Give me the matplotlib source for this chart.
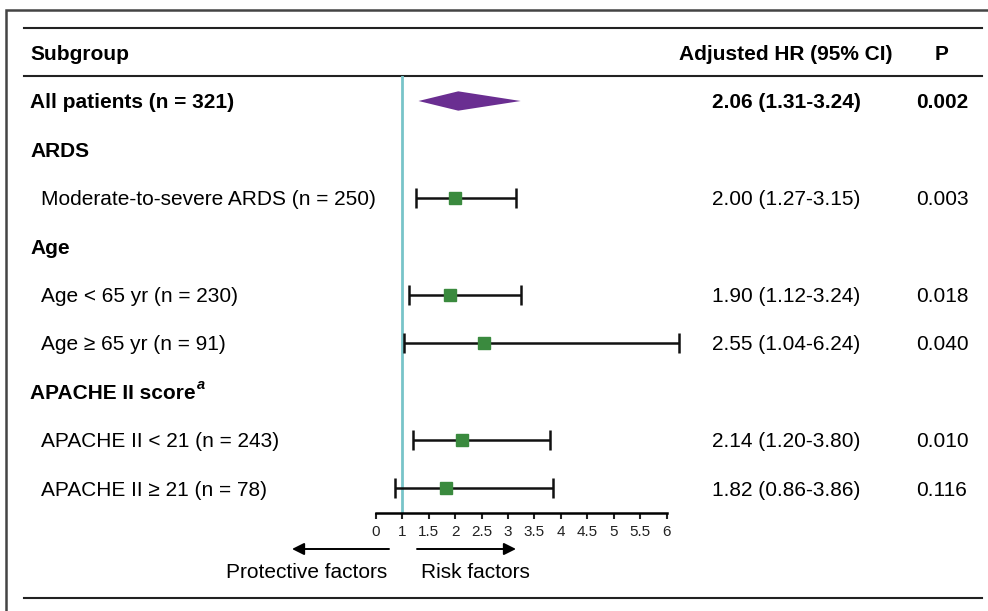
import matplotlib
matplotlib.use("Agg")
import matplotlib.pyplot as plt
from matplotlib.patches import Polygon

plt.rcParams["font.family"] = ["Liberation Sans", "DejaVu Sans"]

# data
labels = ["All patients (n = 321)", "ARDS", "Moderate-to-severe ARDS (n = 250)",
          "Age", "Age < 65 yr (n = 230)", "Age \u2265 65 yr (n = 91)",
          "APACHE II score", "APACHE II < 21 (n = 243)", "APACHE II \u2265 21 (n = 78)"]
is_header = [True, True, False, True, False, False, True, False, False]
hr = [2.06, None, 2.00, None, 1.90, 2.55, None, 2.14, 1.82]
ci_lo = [1.31, None, 1.27, None, 1.12, 1.04, None, 1.20, 0.86]
ci_hi = [3.24, None, 3.15, None, 3.24, 6.24, None, 3.80, 3.86]
p_vals = ["0.002", "", "0.003", "", "0.018", "0.040", "", "0.010", "0.116"]
tick_vals = [0.5, 1, 1.5, 2, 2.5, 3, 3.5, 4, 4.5, 5, 5.5, 6]
tick_labels = ["0", "1", "1.5", "2", "2.5", "3", "3.5", "4", "4.5", "5", "5.5", "6"]

W, H = 988, 611
FS = 15
fig = plt.figure(figsize=(W / 100, H / 100), dpi=100)

# background axes in pixel coordinates for the table text and rules
bg = fig.add_axes([0, 0, 1, 1])
bg.set_xlim(0, W)
bg.set_ylim(H, 0)
bg.axis("off")

# outer frame
bg.plot([6, 6, W + 5], [H + 5, 10, 10], color="#444444", lw=1.8, solid_joinstyle="miter")
for y in [28, 76, 598]:
    bg.plot([24, 982], [y, y], color="#222222", lw=1.5)

row0 = 101
step = 48.375
dy = 2  # text sits a touch lower than the marks
bg.text(30, row0 - step + dy, "Subgroup", fontsize=FS, fontweight="bold", va="center", ha="left")
bg.text(786, row0 - step + dy, "Adjusted HR (95% CI)", fontsize=FS, fontweight="bold", va="center", ha="center")
bg.text(942, row0 - step + dy, "P", fontsize=FS, fontweight="bold", va="center", ha="center")

for i, lab in enumerate(labels):
    y = row0 + i * step + dy
    bold = is_header[i]
    x = 30 if bold else 41
    t = bg.text(x, y, lab, fontsize=FS, fontweight="bold" if bold else "normal",
                va="center", ha="left")
    if lab == "APACHE II score":
        bg.annotate("a", xy=(1.0, 1.0), xycoords=t, xytext=(1, 4), textcoords="offset points",
                    fontsize=10.5, fontweight="bold", style="italic", va="top", ha="left")
    if hr[i] is not None:
        w = "bold" if i == 0 else "normal"
        bg.text(786, y, f"{hr[i]:.2f} ({ci_lo[i]:.2f}-{ci_hi[i]:.2f})", fontsize=FS,
                fontweight=w, va="center", ha="center")
        bg.text(942, y, p_vals[i], fontsize=FS, fontweight=w, va="center", ha="center")

# arrows and captions
arrow = dict(arrowstyle="-|>", mutation_scale=18, color="black", lw=1.4, shrinkA=0, shrinkB=0)
bg.annotate("", xy=(292, 549), xytext=(389, 549), arrowprops=arrow)
bg.annotate("", xy=(516, 549), xytext=(417, 549), arrowprops=arrow)
bg.text(307, 573, "Protective factors", fontsize=FS, va="center", ha="center")
bg.text(475, 573, "Risk factors", fontsize=FS, va="center", ha="center")

# forest axes
x0, x1 = 375.7, 666.7
y_top, y_bot = 76, 513
ax = fig.add_axes([x0 / W, 1 - y_bot / H, (x1 - x0) / W, (y_bot - y_top) / H])
ax.set_xscale("function", functions=(lambda v: 2 * v - 1, lambda p: (p + 1) / 2))
ax.set_xlim(0.5, 6)
ax.set_ylim((y_bot - row0) / step + 1, (y_top - row0) / step + 1)
ax.patch.set_alpha(0)
for s in ["top", "right", "left"]:
    ax.spines[s].set_visible(False)
ax.spines["bottom"].set_linewidth(1.8)
ax.set_yticks([])
ax.set_xticks(tick_vals)
ax.set_xticklabels(tick_labels, fontsize=11)
ax.tick_params(axis="x", direction="out", length=4, width=1.5, pad=5, colors="#222222")
ax.minorticks_off()

ax.axvline(1, color="#78c4c9", lw=2, zorder=1)

for i in range(len(labels)):
    if hr[i] is None:
        continue
    r = i + 1
    if i == 0:
        h = 0.2
        diamond = Polygon([(ci_lo[i], r), (hr[i], r - h), (ci_hi[i], r), (hr[i], r + h)],
                          closed=True, facecolor="#6a2e91", edgecolor="none", zorder=3)
        ax.add_patch(diamond)
    else:
        ax.errorbar([hr[i]], [r], xerr=[[hr[i] - ci_lo[i]], [ci_hi[i] - hr[i]]],
                    fmt="s", color="#111111", ecolor="#111111", elinewidth=1.8,
                    capsize=7, capthick=1.8, markersize=9,
                    markerfacecolor="#3a8a3e", markeredgecolor="#3a8a3e",
                    clip_on=False, zorder=3)

fig.savefig("out.png", dpi=100)
